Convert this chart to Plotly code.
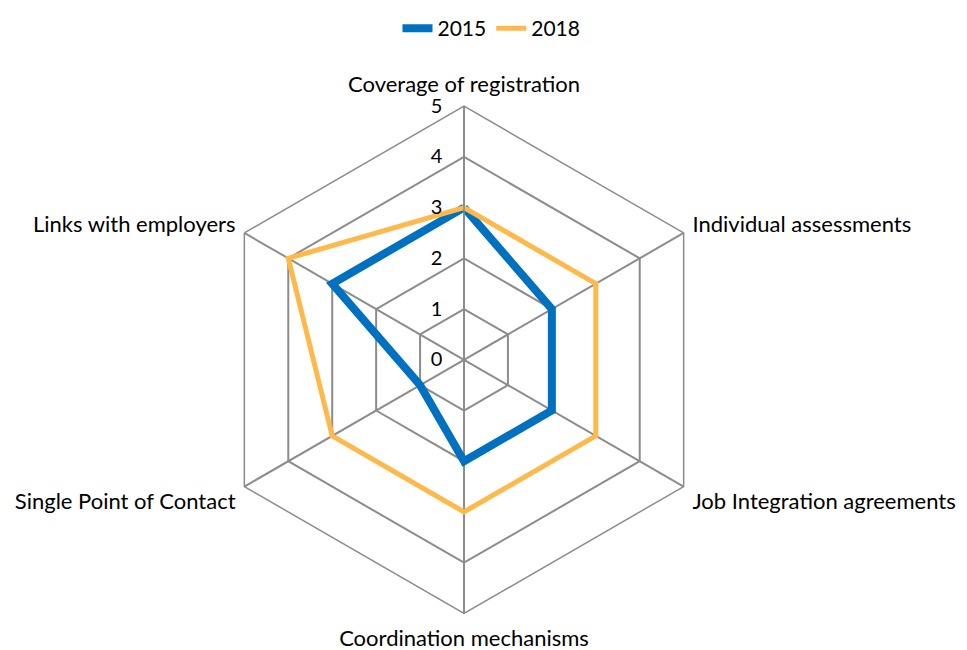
import plotly.graph_objects as go

categories = ["Coverage of registration", "Individual assessments", "Job Integration agreements",
              "Coordination mechanisms", "Single Point of Contact", "Links with employers"]
values_2015 = [3, 2, 2, 2, 1, 3]
values_2018 = [3, 3, 3, 3, 3, 4]
radial_ticks = [0, 1, 2, 3, 4, 5]

BLUE = "#0070C0"
ORANGE = "#FFB84A"
GRID = "#8C8C8C"
FONT = "Lato"
CLEAR = "rgba(0,0,0,0)"

fig = go.Figure()
fig.add_trace(go.Scatterpolar(
    r=values_2015 + values_2015[:1], theta=categories + categories[:1],
    mode="lines", name="2015", line=dict(color=BLUE, width=8)
))
fig.add_trace(go.Scatterpolar(
    r=values_2018 + values_2018[:1], theta=categories + categories[:1],
    mode="lines", name="2018", line=dict(color=ORANGE, width=5)
))

fig.update_layout(
    width=967, height=650,
    margin=dict(l=0, r=0, t=0, b=0),
    paper_bgcolor="white",
    font=dict(family=FONT, size=22, color="#000000"),
    legend=dict(orientation="h", x=0.5, xanchor="center", y=1.01, yanchor="top",
                font=dict(size=21)),
    polar=dict(
        domain=dict(x=[200 / 967, 712 / 967], y=[1 - 605 / 650, 1 - 93 / 650]),
        bgcolor="white",
        gridshape="linear",
        angularaxis=dict(direction="clockwise", rotation=90, showline=True, linecolor=GRID,
                         linewidth=1.5, gridcolor=GRID, gridwidth=1.5,
                         ticks="outside", ticklen=5, tickcolor=CLEAR,
                         tickfont=dict(size=22)),
        radialaxis=dict(range=[0, 5], tickvals=radial_ticks, angle=90, tickangle=90,
                        side="counterclockwise", showline=True, linecolor=GRID, linewidth=1.5,
                        gridcolor=GRID, gridwidth=1.5, ticks="outside", ticklen=14,
                        tickcolor=CLEAR, tickfont=dict(size=20)),
    ),
)

fig.write_html("out.html")
